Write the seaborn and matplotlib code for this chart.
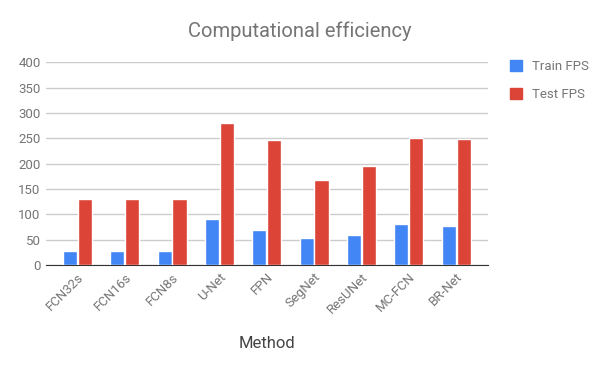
import matplotlib
matplotlib.use("Agg")
import matplotlib.pyplot as plt
import seaborn as sns
import pandas as pd

# ── Données ──────────────────────────────────────────────────────────────────
methods = ["FCN32s", "FCN16s", "FCN8s", "U-Net", "FPN",
           "SegNet", "ResUNet", "MC-FCN", "BR-Net"]
train_fps = [28, 28, 28, 90, 69, 53, 59, 81, 77]
test_fps = [130, 130, 130, 280, 247, 168, 195, 250, 248]
series = ["Train FPS", "Test FPS"]

BLUE, RED, GREY = "#4285F4", "#DB4437", "#757575"

df = pd.DataFrame({
    "Method": methods * 2,
    "FPS": train_fps + test_fps,
    "Series": [series[0]] * len(methods) + [series[1]] * len(methods),
})

sns.set_style("white")
plt.rcParams["font.family"] = ["Roboto", "DejaVu Sans"]

fig = plt.figure(figsize=(6, 3.71), dpi=100)
ax = fig.add_axes([0.076, 0.286, 0.738, 0.546])

sns.barplot(data=df, x="Method", y="FPS", hue="Series",
            palette=[BLUE, RED], saturation=1, width=0.63, gap=0.05,
            ax=ax, zorder=3, legend=False)

ax.set_xlim(-0.67, len(methods) - 1 + 0.68)
ax.set_ylim(0, 400)
ax.set_yticks(range(0, 401, 50))
ax.grid(axis="y", color="#cccccc", linewidth=1, zorder=0)
for s in ["top", "right", "left"]:
    ax.spines[s].set_visible(False)
ax.spines["bottom"].set_color("#333333")
ax.tick_params(axis="both", length=0, colors=GREY, labelsize=9.5)
ax.tick_params(axis="x", pad=4)
plt.setp(ax.get_xticklabels(), rotation=45, ha="right", rotation_mode="anchor")
ax.set_ylabel("")
ax.set_xlabel("Method", fontsize=12, color="#444444", labelpad=14)
fig.text(0.5, 0.915, "Computational efficiency", fontsize=14.5, color=GREY,
         ha="center", va="center")

handles = [plt.Rectangle((0, 0), 1, 1, color=c) for c in [BLUE, RED]]
fig.legend(handles, series, loc="upper left", bbox_to_anchor=(0.83, 0.87),
           frameon=False, fontsize=9.5, labelcolor=GREY,
           handlelength=0.9, handleheight=0.9, labelspacing=1.1)

fig.savefig("out.png", dpi=100)
